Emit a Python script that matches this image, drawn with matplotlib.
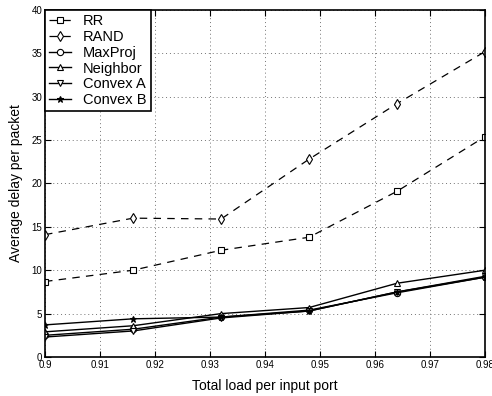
import numpy as np
import matplotlib
matplotlib.use('Agg')
import matplotlib.pyplot as plt

plt.rcParams['font.family'] = ['Liberation Sans', 'DejaVu Sans']

load = [0.9, 0.916, 0.932, 0.948, 0.964, 0.98]
rr = [8.7, 10.0, 12.3, 13.8, 19.1, 25.4]
rand = [14.1, 16.0, 15.9, 22.8, 29.2, 35.2]
maxproj = [2.5, 3.2, 4.6, 5.4, 7.4, 9.2]
neighbor = [2.9, 3.6, 5.0, 5.7, 8.5, 10.0]
convex_a = [2.3, 3.0, 4.5, 5.3, 7.5, 9.3]
convex_b = [3.7, 4.4, 4.6, 5.3, 7.5, 9.2]

fig = plt.figure(figsize=(4.92, 3.96), dpi=100)
ax = fig.add_axes([0.0915, 0.0985, 0.8945, 0.8765])

dash = (6, 5)
ax.plot(load, rr, 'k--', marker='s', mfc='white', ms=4, mew=0.8, lw=0.9, label='RR', dashes=dash)
ax.plot(load, rand, 'k--', marker='d', mfc='white', ms=5, mew=0.8, lw=0.9, label='RAND', dashes=dash)
ax.plot(load, maxproj, 'k-', marker='o', mfc='white', ms=4.5, mew=0.8, lw=1.0, label='MaxProj')
ax.plot(load, neighbor, 'k-', marker='^', mfc='white', ms=4.5, mew=0.8, lw=1.0, label='Neighbor')
ax.plot(load, convex_a, 'k-', marker='v', mfc='white', ms=4.5, mew=0.8, lw=1.0, label='Convex A')
ax.plot(load, convex_b, 'k-', marker='*', mfc='black', ms=4.5, mew=0.8, lw=1.0, label='Convex B')

ax.set_xlim(0.9, 0.98)
ax.set_ylim(0, 40)
ax.set_xticks(np.arange(0.9, 0.981, 0.01))
ax.set_xticklabels(['0.9', '0.91', '0.92', '0.93', '0.94', '0.95', '0.96', '0.97', '0.98'])
ax.set_yticks(range(0, 41, 5))
ax.tick_params(direction='in', top=True, right=True, labelsize=7, length=4, pad=2)
ax.grid(True, color='0.45', lw=0.7, dashes=(1, 3))
for s in ax.spines.values():
    s.set_linewidth(1.2)

ax.set_xlabel('Total load per input port', fontsize=10, labelpad=7)
ax.set_ylabel('Average delay per packet', fontsize=10, labelpad=6)

leg = ax.legend(loc='upper left', fontsize=10.5, handlelength=1.5, borderaxespad=0,
                fancybox=False, framealpha=1, edgecolor='k', labelspacing=0.12,
                borderpad=0.3, handletextpad=0.8)
leg.get_frame().set_linewidth(1.2)

fig.savefig('out.png', dpi=100)
